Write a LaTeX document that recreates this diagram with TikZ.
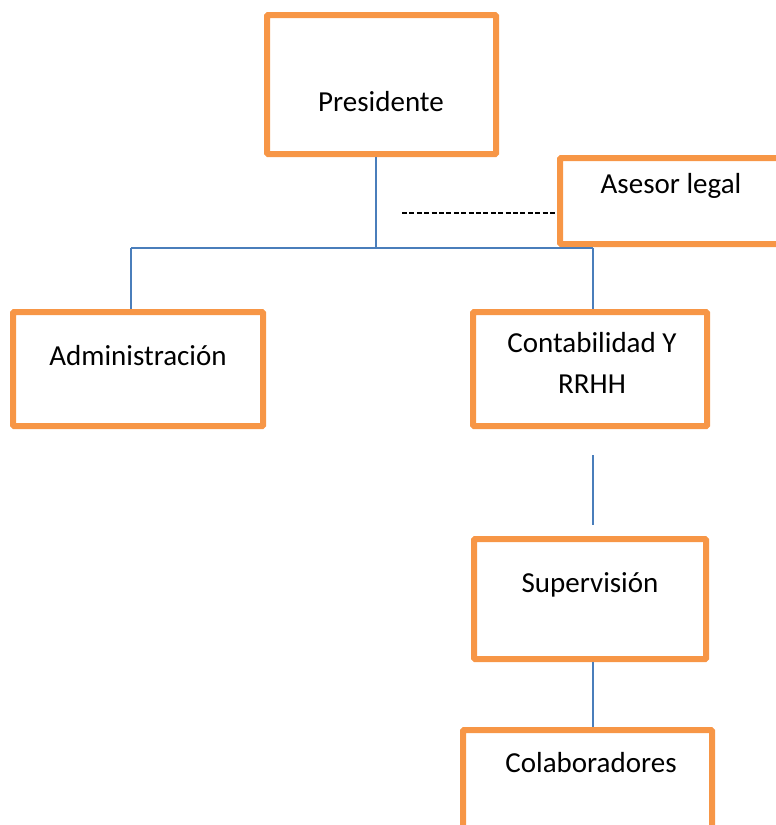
\documentclass[tikz,border=0pt]{standalone}
\usepackage{fontspec}
\setmainfont{Carlito}
\usetikzlibrary{calc}
\definecolor{boxorange}{HTML}{F79646}
\definecolor{linkblue}{HTML}{4A7EBB}
\tikzset{
  unitbox/.style={draw=boxorange, line width=6pt, rounded corners=1pt, inner sep=0pt},
  lbl/.style={inner sep=0pt, font=\fontsize{29}{34}\selectfont},
  link/.style={draw=linkblue, line width=1.3pt},
  hyph/.style={draw=black, line width=1.4pt, dash pattern=on 5pt off 2.4pt}
}
\begin{document}
\begin{tikzpicture}[x=1pt,y=-1pt]
\useasboundingbox (0,0) rectangle (776,825);
% boxes
\node[unitbox, minimum width=229pt, minimum height=139pt] (pres) at (381.5,84.5) {};
\node[unitbox, minimum width=240pt, minimum height=86pt, anchor=north west] (ases) at (557,155) {};
\node[unitbox, minimum width=250pt, minimum height=114pt] (adm) at (138,369) {};
\node[unitbox, minimum width=234pt, minimum height=114pt] (cont) at (590,369) {};
\node[unitbox, minimum width=232pt, minimum height=120pt] (sup) at (590,599) {};
\node[unitbox, minimum width=249pt, minimum height=130pt, anchor=north west] (colab) at (460,727) {};
% labels
\node[lbl] (tpres) at (381,102) {Presidente};
\node[lbl] (tases) at (671,186) {Asesor legal};
\node[lbl] (tadm) at (138,356) {Administración};
\node[lbl] (tcont) at (592,343) {Contabilidad Y};
\node[lbl] (trrhh) at (592,384) {RRHH};
\node[lbl] (tsup) at (590,585) {Supervisión};
\node[lbl] (tcolab) at (591,763) {Colaboradores};
% connectors
\coordinate (bus) at (376,248);
\draw[link] (bus |- pres.south) -- (bus);
\draw[link] (bus -| 131,0) -- (bus -| 593,0);
\draw[link] (131,248) -- (131,0 |- adm.north);
\draw[link] (593,248) -- (593,0 |- cont.north);
\draw[link] ($(cont.south)+(3,26)$) -- ($(sup.north)+(3,-11)$);
\draw[link] ($(sup.south)+(3,0)$) -- ($(colab.north west)+(133,0)$);
\coordinate (dstart) at (402,213);
\draw[hyph] (dstart) -- (dstart -| ases.west);
\end{tikzpicture}
\end{document}
